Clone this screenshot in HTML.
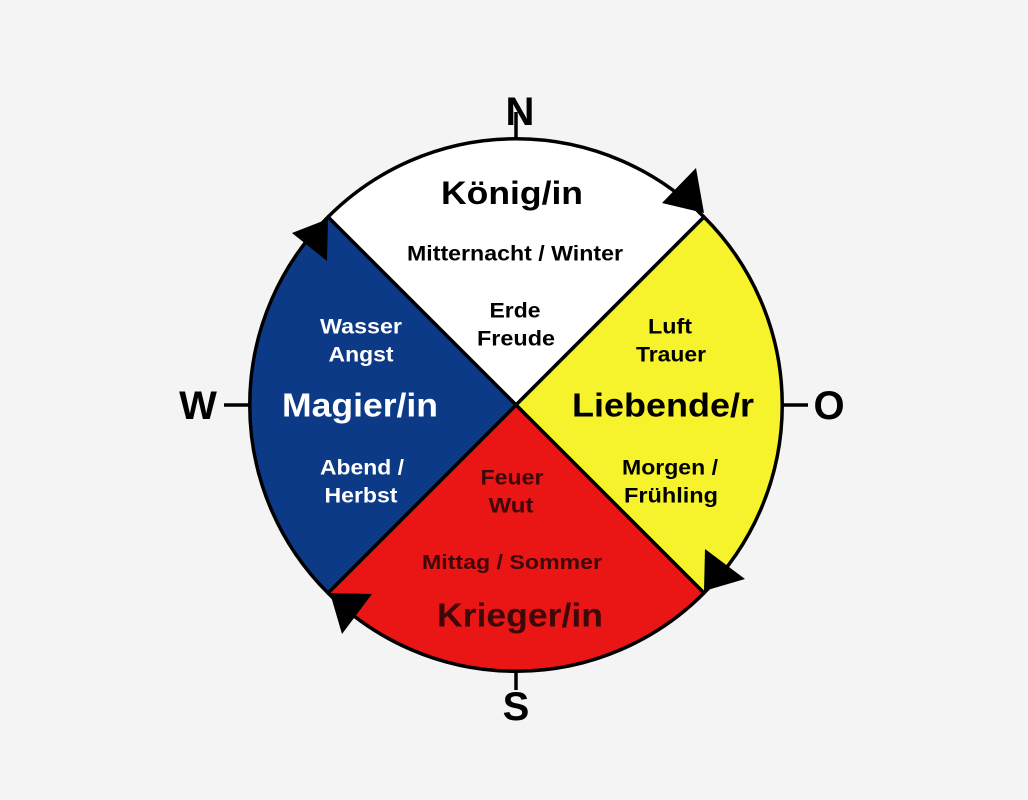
<!DOCTYPE html>
<html><head><meta charset="utf-8"><style>
html,body{margin:0;padding:0;background:#f4f4f4;}
svg{display:block}
text{font-family:"Liberation Sans",Arial,sans-serif;font-weight:bold;text-anchor:middle;dominant-baseline:central}
</style></head><body>
<svg width="1028" height="800" viewBox="0 0 1028 800">
<rect width="1028" height="800" fill="#f4f4f4"/>
<g stroke="#000" stroke-width="3.5" stroke-linejoin="round">
<path d="M516 405 L328 217 A265 265 0 0 1 704 217 Z" fill="#ffffff"/>
<path d="M516 405 L704 217 A265 265 0 0 1 704 593 Z" fill="#f6f22c"/>
<path d="M516 405 L704 593 A265 265 0 0 1 328 593 Z" fill="#ea1515"/>
<path d="M516 405 L328 593 A265 265 0 0 1 328 217 Z" fill="#0d3a86"/>
<line x1="516" y1="112" x2="516" y2="140"/>
<line x1="516" y1="670" x2="516" y2="690"/>
<line x1="224" y1="405" x2="251" y2="405"/>
<line x1="781" y1="405" x2="808" y2="405"/>
</g>
<g fill="#000">
<polygon points="704,213 662,203 696,168"/>
<polygon points="704,591 705,549 745,579"/>
<polygon points="330,593 372,594 342,634"/>
<polygon points="328,219 327,261 292,233"/>
</g>
<g lengthAdjust="spacingAndGlyphs">
<text x="520" y="112" font-size="40">N</text>
<text x="198" y="406" font-size="40">W</text>
<text x="829" y="406" font-size="40">O</text>
<text x="516" y="707" font-size="40">S</text>
<text x="512" y="193" font-size="32" textLength="142" lengthAdjust="spacingAndGlyphs">König/in</text>
<text x="515" y="254" font-size="21" textLength="216" lengthAdjust="spacingAndGlyphs">Mitternacht / Winter</text>
<text x="515" y="311" font-size="21" textLength="51" lengthAdjust="spacingAndGlyphs">Erde</text>
<text x="516" y="339" font-size="21" textLength="78" lengthAdjust="spacingAndGlyphs">Freude</text>
<g fill="#fff">
<text x="361" y="327" font-size="21" textLength="82" lengthAdjust="spacingAndGlyphs">Wasser</text>
<text x="361" y="355" font-size="21" textLength="65" lengthAdjust="spacingAndGlyphs">Angst</text>
<text x="360" y="405" font-size="33" textLength="156" lengthAdjust="spacingAndGlyphs">Magier/in</text>
<text x="362" y="468" font-size="21" textLength="84" lengthAdjust="spacingAndGlyphs">Abend /</text>
<text x="361" y="496" font-size="21" textLength="73" lengthAdjust="spacingAndGlyphs">Herbst</text>
</g>
<text x="670" y="327" font-size="21" textLength="44" lengthAdjust="spacingAndGlyphs">Luft</text>
<text x="671" y="355" font-size="21" textLength="70" lengthAdjust="spacingAndGlyphs">Trauer</text>
<text x="663" y="405" font-size="33" textLength="182" lengthAdjust="spacingAndGlyphs">Liebende/r</text>
<text x="670" y="468" font-size="21" textLength="96" lengthAdjust="spacingAndGlyphs">Morgen /</text>
<text x="671" y="496" font-size="21" textLength="94" lengthAdjust="spacingAndGlyphs">Frühling</text>
<g fill="#3c0808">
<text x="512" y="478" font-size="21" textLength="63" lengthAdjust="spacingAndGlyphs">Feuer</text>
<text x="511" y="506" font-size="21" textLength="45" lengthAdjust="spacingAndGlyphs">Wut</text>
<text x="512" y="563" font-size="20" textLength="180" lengthAdjust="spacingAndGlyphs">Mittag / Sommer</text>
<text x="520" y="615" font-size="33" textLength="166" lengthAdjust="spacingAndGlyphs">Krieger/in</text>
</g>
</g>
</svg>
</body></html>
